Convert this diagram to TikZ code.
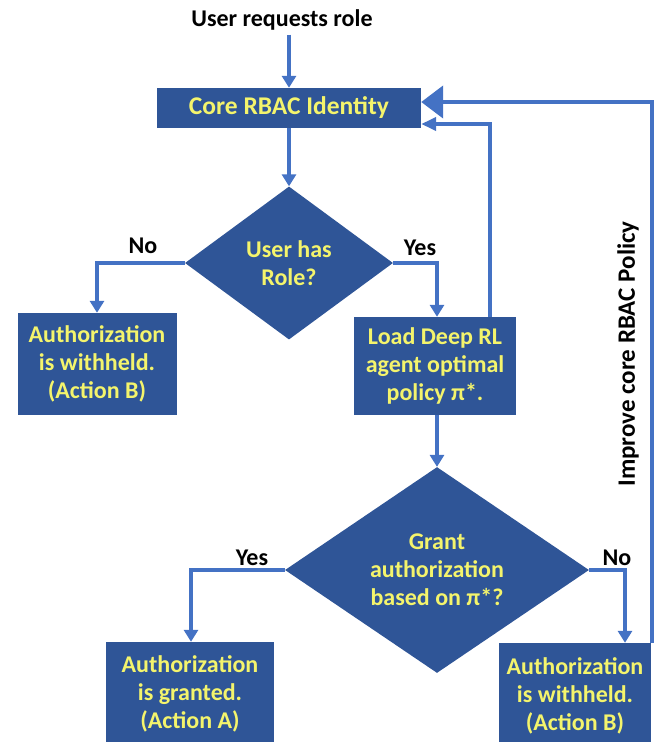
\documentclass[tikz,border=0pt]{standalone}
\usepackage{fontspec}
\setmainfont{Carlito}
\usetikzlibrary{shapes.geometric,arrows.meta,calc}
\definecolor{boxblue}{HTML}{2F5597}
\definecolor{lineblue}{HTML}{4472C4}
\definecolor{txtyellow}{HTML}{F4F46C}
\tikzset{
  every node/.style={font=\fontsize{24}{28}\selectfont\bfseries},
  procbox/.style={fill=boxblue, draw=none, text=txtyellow, align=center, inner sep=0pt},
  decision/.style={diamond, fill=boxblue, draw=none, text=txtyellow, align=center, inner sep=0pt},
  boxtext/.style={text=txtyellow, align=center, inner sep=0pt},
  lbl/.style={text=black, inner sep=0pt},
  flow/.style={draw=lineblue, line width=4pt, -{Triangle[length=12pt,width=14pt]}},
  bigflow/.style={draw=lineblue, line width=4.5pt, -{Triangle[length=22pt,width=32pt]}},
  midflow/.style={draw=lineblue, line width=4pt, -{Triangle[length=15pt,width=13pt]}},
}
\begin{document}
\begin{tikzpicture}[x=1pt,y=-1pt]
\useasboundingbox (0,0) rectangle (659,742);
\begin{scope}
\clip (0,0) rectangle (659,742);

% process boxes and decisions
\node[lbl] (title) at (282,20) {User requests role};
\node[procbox, minimum width=264pt, minimum height=40pt,
      font=\fontsize{25.5}{28}\selectfont\bfseries] (core) at (289,108) {Core RBAC Identity};
\node[decision, minimum width=208pt, minimum height=153pt] (d1) at (289,263) {User has\\Role?};
\node[procbox, minimum width=159pt, minimum height=102pt] (wb1) at (97,364) {Authorization\\is withheld.\\(Action B)};
\node[procbox, minimum width=162pt, minimum height=98pt] (load) at (435,366) {Load Deep RL\\agent optimal\\policy π*.};
\node[decision, minimum width=304pt, minimum height=195pt] (d2) at (437,570) {Grant\\authorization\\based on π*?};

% bottom boxes run past the lower edge; their text sits near the top
\node[procbox, minimum width=168pt, minimum height=112pt] (grant) at (190,698) {};
\node[procbox, minimum width=152pt, minimum height=112pt] (wb2) at (575,699) {};
\node[boxtext] (granttext) at (190,694) {Authorization\\is granted.\\(Action A)};
\node[boxtext] (wb2text) at (575,696) {Authorization\\is withheld.\\(Action B)};

% branch labels
\node[lbl] (no1) at (143,246) {No};
\node[lbl] (yes1) at (420,248) {Yes};
\node[lbl] (yes2) at (252,558) {Yes};
\node[lbl] (no2) at (617,558) {No};
\node[lbl, rotate=90, font=\fontsize{25}{28}\selectfont\bfseries] (improve) at (628,354) {Improve core RBAC Policy};

% connectors
\draw[flow] ($(title.south -| core.north)+(0,4)$) -- (core.north);
\draw[flow] (core.south) -- (d1.north);
\draw[flow] (d1.west) -| (wb1.north);
\draw[flow] (d1.east) -| ($(load.north)+(2,0)$);
\draw[flow] ($(load.south)+(2,0)$) -- (d2.north);
\draw[flow] (d2.west) -| ($(grant.north)+(1,0)$);
\draw[flow] (d2.east) -| ($(wb2.north)+(50,0)$);
\draw[midflow] ($(load.north)+(55,0)$) |- ($(core.east)+(0,16)$);
\draw[bigflow] ($(wb2.north east)+(1,0)$) |- ($(core.east)+(0,-6)$);
\end{scope}
\end{tikzpicture}
\end{document}
